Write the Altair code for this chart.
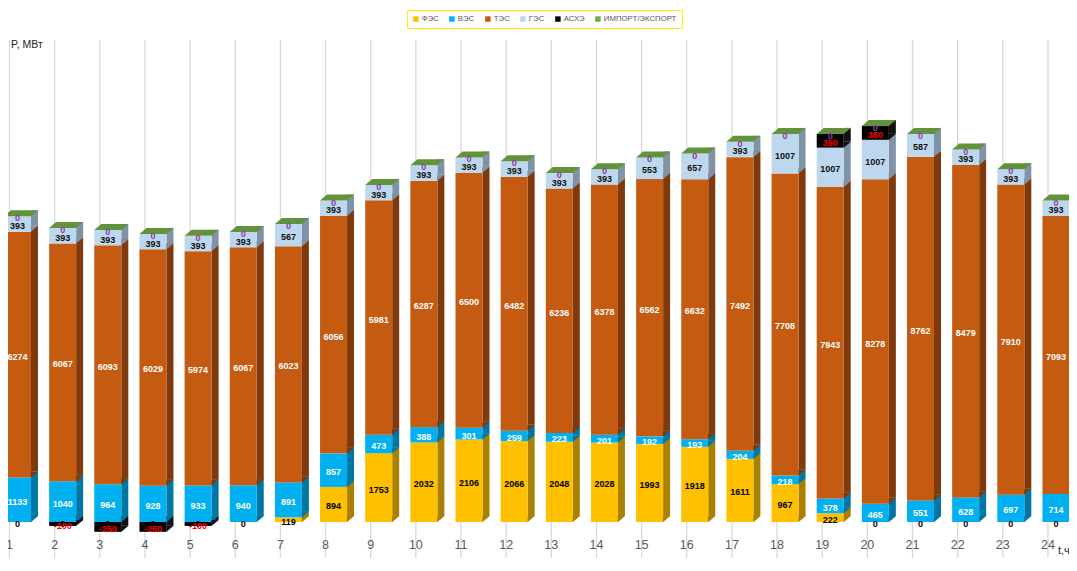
import altair as alt
import pandas as pd

hours = list(range(1, 25))
series_names = ["ФЭС", "ВЭС", "ТЭС", "ГЭС", "АСХЭ", "ИМПОРТ/ЭКСПОРТ"]

fes = [0, 0, 0, 0, 0, 0, 119, 894, 1753, 2032, 2106, 2066, 2048, 2028, 1993, 1918, 1611, 967, 222, 0, 0, 0, 0, 0]
ves = [1133, 1040, 964, 928, 933, 940, 891, 857, 473, 388, 301, 259, 223, 201, 192, 193, 204, 218, 378, 465, 551, 628, 697, 714]
tes = [6274, 6067, 6093, 6029, 5974, 6067, 6023, 6056, 5981, 6287, 6500, 6482, 6236, 6378, 6562, 6632, 7492, 7708, 7943, 8278, 8762, 8479, 7910, 7093]
ges = [393, 393, 393, 393, 393, 393, 567, 393, 393, 393, 393, 393, 393, 393, 553, 657, 393, 1007, 1007, 1007, 587, 393, 393, 393]
asxe = [0, -100, -250, -250, -100, 0, 0, 0, 0, 0, 0, 0, 0, 0, 0, 0, 0, 0, 350, 350, 0, 0, 0, 0]
imp = [0, 0, 0, 0, 0, 0, 0, 0, 0, 0, 0, 0, 0, 0, 0, 0, 0, 0, 0, 0, 0, 0, 0, 0]

front_colors = ["#FFC000", "#00B0F0", "#C55A11", "#BDD7EE", "#000000", "#70AD47"]
side_colors = ["#A98000", "#0076A3", "#7E3A0C", "#8092A6", "#111111", "#4E7A31"]
label_colors = ["#000000", "#FFFFFF", "#FFFFFF", "#111111", "#FF0000", "#8E3AA8"]
top_color = "#62923B"

y_title = ["P, МВт"]
x_title = ["t,ч"]

rows = []
for si, (name, vals) in enumerate(zip(series_names, [fes, ves, tes, ges, asxe, imp])):
    for h, v in zip(hours, vals):
        rows.append({"hour": h, "series": name, "idx": si, "value": v,
                     "side": side_colors[si], "labc": label_colors[si], "lbl": str(v)})
df = pd.DataFrame(rows)
hours_df = pd.DataFrame({"hour": hours})

xs = alt.Scale(domain=[0.9668, 24.466], nice=False, zero=False)
ys = alt.Scale(domain=[-918, 13112], nice=False, zero=False)
X = alt.X("hour:Q", scale=xs, axis=None)

base = alt.Chart(df).transform_stack(
    stack="value", groupby=["hour"], as_=["y0", "y1"],
    sort=[alt.SortField("idx", order="ascending")], offset="zero"
).transform_calculate(
    lo="min(datum.y0, datum.y1)",
    ly="datum.series === 'ИМПОРТ/ЭКСПОРТ' ? datum.y1 : (datum.y0 + datum.y1) / 2",
)

grid = alt.Chart(hours_df).mark_rule(color="#D9D9D9", strokeWidth=1.3).encode(
    x=X, y=alt.value(32), y2=alt.value(550)
)

sides = base.mark_rect(xOffset=21.5, x2Offset=28.5, yOffset=-6, y2Offset=-6).encode(
    x=X, x2="hour:Q",
    y=alt.Y("y0:Q", scale=ys, axis=None), y2="y1:Q",
    color=alt.Color("side:N", scale=None),
)

tri_path = "M-1.05,0.9L-1.05,-0.86L1.05,-0.86Z"
tris = base.transform_filter("datum.value != 0").mark_point(
    shape=tri_path, size=49, filled=True, opacity=1, strokeWidth=0, xOffset=25, yOffset=-3
).encode(
    x=X, y=alt.Y("lo:Q", scale=ys, axis=None),
    color=alt.Color("side:N", scale=None),
)

fronts = base.mark_rect(xOffset=-5.5, x2Offset=21.5).encode(
    x=X, x2="hour:Q",
    y=alt.Y("y0:Q", scale=ys, axis=None), y2="y1:Q",
    color=alt.Color(
        "series:N",
        scale=alt.Scale(domain=series_names, range=front_colors),
        legend=alt.Legend(
            orient="none", legendX=399, legendY=2, direction="horizontal", title=None,
            columns=6, symbolType="square", symbolSize=30, symbolStrokeWidth=0,
            labelFontSize=7.8, labelColor="#595959", labelFont="Liberation Sans",
            labelOffset=2, columnPadding=9, padding=5, strokeColor="#FFF200",
        ),
    ),
)

top_path = "M-1,0.1765L0.588,0.1765L1,-0.1765L-0.588,-0.1765Z"
tops = base.transform_filter("datum.series === 'ИМПОРТ/ЭКСПОРТ'").mark_point(
    shape=top_path, size=1156, filled=True, opacity=1, strokeWidth=0,
    color=top_color, xOffset=11.5, yOffset=-3
).encode(x=X, y=alt.Y("y1:Q", scale=ys, axis=None))

labels = base.transform_filter(
    "datum.series !== 'АСХЭ' || datum.value != 0"
).mark_text(font="Liberation Sans", fontWeight="bold", fontSize=9, dx=8, dy=2).encode(
    x=X, y=alt.Y("ly:Q", scale=ys, axis=None),
    text="lbl:N",
    color=alt.Color("labc:N", scale=None),
)

hour_labels = alt.Chart(hours_df).mark_text(
    font="Liberation Sans", fontSize=12.5, color="#595959"
).encode(x=X, y=alt.value(537), text="hour:N")

ytitle = alt.Chart(pd.DataFrame({"t": y_title})).mark_text(
    font="Liberation Sans", fontSize=10.5, color="#262626", align="left"
).encode(x=alt.value(3), y=alt.value(37), text="t:N")

xtitle = alt.Chart(pd.DataFrame({"t": x_title})).mark_text(
    font="Liberation Sans", fontSize=11, color="#262626", align="left"
).encode(x=alt.value(1050), y=alt.value(543), text="t:N")

chart = alt.layer(
    grid, sides, fronts, tris, tops, labels, hour_labels, ytitle, xtitle
).resolve_scale(color="independent").properties(
    width=1061, height=550, padding=0,
    autosize=alt.AutoSizeParams(type="none"),
).configure_view(stroke=None)

chart.save("out.html", embed_options={"renderer": "svg", "actions": False})
